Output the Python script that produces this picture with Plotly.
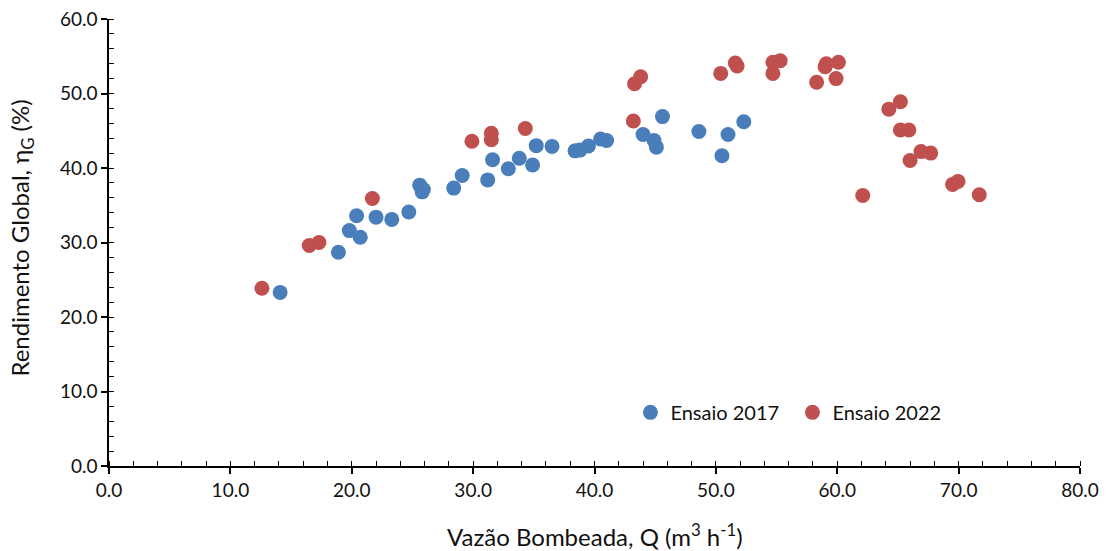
import plotly.graph_objects as go

q_2017 = [14.1, 18.9, 19.8, 20.7, 20.4, 22.0, 23.3, 24.7, 25.6, 25.8, 25.9, 28.4, 29.1,
          31.2, 31.6, 32.9, 33.8, 34.9, 35.2, 36.5, 38.4, 38.8, 39.5, 40.5, 41.0,
          44.0, 44.9, 45.1, 45.6, 48.6, 50.5, 51.0, 52.3]
eta_2017 = [23.3, 28.7, 31.6, 30.7, 33.6, 33.4, 33.1, 34.1, 37.7, 36.8, 37.1, 37.3, 39.0,
            38.4, 41.1, 39.9, 41.3, 40.4, 43.0, 42.9, 42.3, 42.4, 42.95, 43.9, 43.7,
            44.5, 43.7, 42.8, 46.9, 44.9, 41.65, 44.5, 46.2]

q_2022 = [12.6, 16.5, 17.3, 21.7, 29.9, 31.5, 31.5, 34.3, 43.2, 43.3, 43.8, 50.4, 51.6,
          51.75, 54.7, 54.7, 55.3, 58.3, 59.0, 59.1, 60.1, 59.9, 62.1, 64.25, 65.2,
          65.2, 65.9, 66.0, 66.9, 67.7, 69.5, 69.95, 71.7]
eta_2022 = [23.85, 29.6, 30.0, 35.9, 43.6, 44.65, 43.8, 45.3, 46.3, 51.3, 52.25, 52.7, 54.1,
            53.7, 52.7, 54.2, 54.4, 51.5, 53.6, 54.0, 54.2, 52.0, 36.3, 47.9, 48.9,
            45.1, 45.1, 41.0, 42.2, 42.0, 37.8, 38.2, 36.4]

x_title = "Vazão Bombeada, Q (m<sup>3</sup> h<sup>-1</sup>)"
y_title = "Rendimento Global, η<sub>G</sub> (%)"

BLUE = "#4A7EBB"
RED = "#C0504D"
FONT = "Lato"

fig = go.Figure()
fig.add_trace(go.Scatter(x=q_2017, y=eta_2017, mode="markers", name="Ensaio 2017",
                         marker=dict(color=BLUE, size=15, line=dict(width=0))))
fig.add_trace(go.Scatter(x=q_2022, y=eta_2022, mode="markers", name="Ensaio 2022",
                         marker=dict(color=RED, size=15, line=dict(width=0))))

axis_common = dict(
    showgrid=False, zeroline=False, showline=True, linecolor="black", linewidth=1.5,
    ticks="outside", ticklen=6, tickwidth=1.5, tickcolor="black", automargin=False,
    tickformat=".1f", tickfont=dict(family=FONT, size=19, color="#111"),
    minor=dict(ticks="inside", ticklen=5, tickwidth=1, tickcolor="black", dtick=2),
)

fig.update_layout(
    width=1108, height=551,
    margin=dict(l=109, r=28, t=19, b=85),
    paper_bgcolor="white", plot_bgcolor="white",
    font=dict(family=FONT, size=19, color="#111"),
    xaxis=dict(range=[0, 80], dtick=10, tick0=0, **axis_common),
    yaxis=dict(range=[0, 60], dtick=10, tick0=0, **axis_common),
    legend=dict(orientation="h", x=0.537, y=0.12, xanchor="left", yanchor="middle",
                font=dict(family=FONT, size=20, color="#111"),
                bgcolor="rgba(0,0,0,0)", itemsizing="trace", itemwidth=30,
                entrywidth=117, entrywidthmode="pixels"),
    showlegend=True,
    annotations=[
        dict(text=x_title, xref="paper", yref="paper", x=0.5, y=-0.154,
             xanchor="center", yanchor="middle", showarrow=False,
             font=dict(family=FONT, size=24, color="#111")),
        dict(text=y_title, xref="paper", yref="paper", x=-0.0896, y=0.511,
             xanchor="center", yanchor="middle", showarrow=False, textangle=-90,
             font=dict(family=FONT, size=24, color="#111")),
    ],
)

fig.write_html("out.html")
